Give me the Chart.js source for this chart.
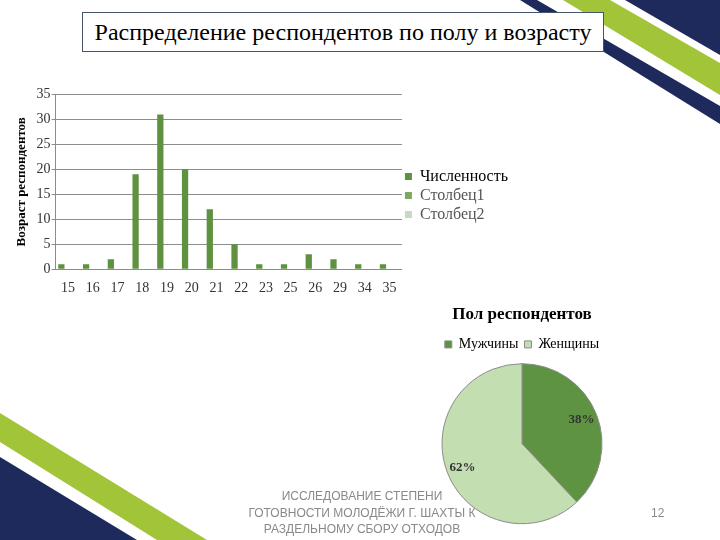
<!DOCTYPE html>
<html>
<head>
<meta charset="utf-8">
<script src="https://cdn.jsdelivr.net/npm/chart.js@4"></script>
<style>
  body { margin: 0; width: 720px; height: 540px; background: #fff; position: relative; overflow: hidden; }
  #deco { position: absolute; left: 0; top: 0; }
  #title {
    position: absolute; left: 82px; top: 12px; width: 520px; height: 38px;
    border: 1.5px solid #44546A; background: #fff;
    font: 24px "Liberation Serif", serif; color: #000;
    text-align: center; line-height: 38px;
  }
  #barBox { position: absolute; left: 0; top: 85px; width: 518px; height: 215px; }
  #pieBox { position: absolute; left: 427px; top: 300px; width: 190px; height: 232px; }
  #footer {
    position: absolute; left: 212px; top: 488px; width: 300px;
    font: 12px "Liberation Sans", sans-serif; color: #898989;
    text-align: center; line-height: 16.5px;
  }
  #page { position: absolute; left: 651px; top: 506px; font: 12px "Liberation Sans", sans-serif; color: #898989; }
</style>
</head>
<body>
<svg id="deco" width="720" height="540">
  <polygon points="625,0 720,0 720,55" fill="#1F2A5C"/>
  <polygon points="563,0 610,0 720,63 720,95" fill="#A2C438"/>
  <polygon points="520,0 537,0 720,106 720,124" fill="#1F2A5C"/>
  <polygon points="0,413 0,442 157,540 207,540" fill="#A2C438"/>
  <polygon points="0,457 0,540 137,540" fill="#1F2A5C"/>
</svg>
<div id="title">Распределение респондентов по полу и возрасту</div>
<div id="barBox"><canvas id="barChart"></canvas></div>
<div id="pieBox"><canvas id="pieChart"></canvas></div>
<div id="footer">ИССЛЕДОВАНИЕ СТЕПЕНИ<br>ГОТОВНОСТИ МОЛОДЁЖИ Г. ШАХТЫ К<br>РАЗДЕЛЬНОМУ СБОРУ ОТХОДОВ</div>
<div id="page">12</div>
<script>
// age distribution
const ages = ['15', '16', '17', '18', '19', '20', '21', '22', '23', '25', '26', '29', '34', '35'];
const counts = [1, 1, 2, 19, 31, 20, 12, 5, 1, 1, 3, 2, 1, 1];
const column1 = [];
const column2 = [];

// gender split
const genders = ['Мужчины', 'Женщины'];
const genderShare = [38, 62];

const serif = '"Liberation Serif", serif';

new Chart(document.getElementById('barChart'), {
  type: 'bar',
  data: {
    labels: ages,
    datasets: [
      { label: 'Численность', data: counts, backgroundColor: '#5E9140' },
      { label: 'Столбец1', data: column1, backgroundColor: '#7EA85F' },
      { label: 'Столбец2', data: column2, backgroundColor: '#C9D9C0' }
    ]
  },
  options: {
    responsive: true,
    maintainAspectRatio: false,
    animation: false,
    categoryPercentage: 0.8,
    barPercentage: 0.95,
    layout: { padding: { left: 12, top: 6, right: 0, bottom: 0 } },
    plugins: {
      tooltip: { enabled: false },
      legend: {
        position: 'right',
        labels: {
          boxWidth: 7,
          boxHeight: 7,
          padding: 3,
          font: { family: serif, size: 16 },
          generateLabels(chart) {
            const items = Chart.defaults.plugins.legend.labels.generateLabels(chart);
            items.forEach((it, i) => { it.fontColor = i === 0 ? '#000' : '#555'; it.lineWidth = 0; });
            return items;
          }
        }
      }
    },
    scales: {
      x: {
        grid: { display: false },
        border: { display: true, color: '#8c8c8c' },
        ticks: { color: '#333', font: { family: serif, size: 14 } }
      },
      y: {
        min: 0,
        max: 35,
        ticks: { stepSize: 5, padding: 1, color: '#333', font: { family: serif, size: 14 } },
        grid: { color: '#8c8c8c', tickLength: 4 },
        border: { display: true, color: '#8c8c8c' },
        title: {
          display: true,
          text: 'Возраст респондентов',
          color: '#000',
          font: { family: serif, size: 13, weight: 'bold' },
          padding: { top: 2, bottom: 6 }
        }
      }
    }
  }
});

// percent labels drawn on the slices
const sliceLabels = {
  id: 'sliceLabels',
  afterDatasetsDraw(chart) {
    const ctx = chart.ctx;
    const meta = chart.getDatasetMeta(0);
    ctx.save();
    ctx.font = 'bold 13px ' + serif;
    ctx.fillStyle = '#333';
    ctx.textAlign = 'center';
    ctx.textBaseline = 'middle';
    meta.data.forEach((arc, i) => {
      const mid = (arc.startAngle + arc.endAngle) / 2;
      const r = arc.outerRadius * 0.8;
      ctx.fillText(genderShare[i] + '%', arc.x + Math.cos(mid) * r, arc.y + Math.sin(mid) * r);
    });
    ctx.restore();
  }
};

new Chart(document.getElementById('pieChart'), {
  type: 'pie',
  data: {
    labels: genders,
    datasets: [{
      data: genderShare,
      backgroundColor: ['#5E9441', '#C3DEB1'],
      borderColor: '#8c8c8c',
      borderWidth: 1,
      radius: 80
    }]
  },
  options: {
    responsive: true,
    maintainAspectRatio: false,
    animation: false,
    layout: { padding: { bottom: 6 } },
    plugins: {
      tooltip: { enabled: false },
      title: {
        display: true,
        text: 'Пол респондентов',
        color: '#000',
        font: { family: serif, size: 17, weight: 'bold' },
        padding: { top: 4, bottom: 7 }
      },
      legend: {
        position: 'top',
        labels: {
          boxWidth: 7,
          boxHeight: 7,
          padding: 6,
          color: '#000',
          font: { family: serif, size: 14 }
        }
      }
    }
  },
  plugins: [sliceLabels]
});
</script>
</body>
</html>
